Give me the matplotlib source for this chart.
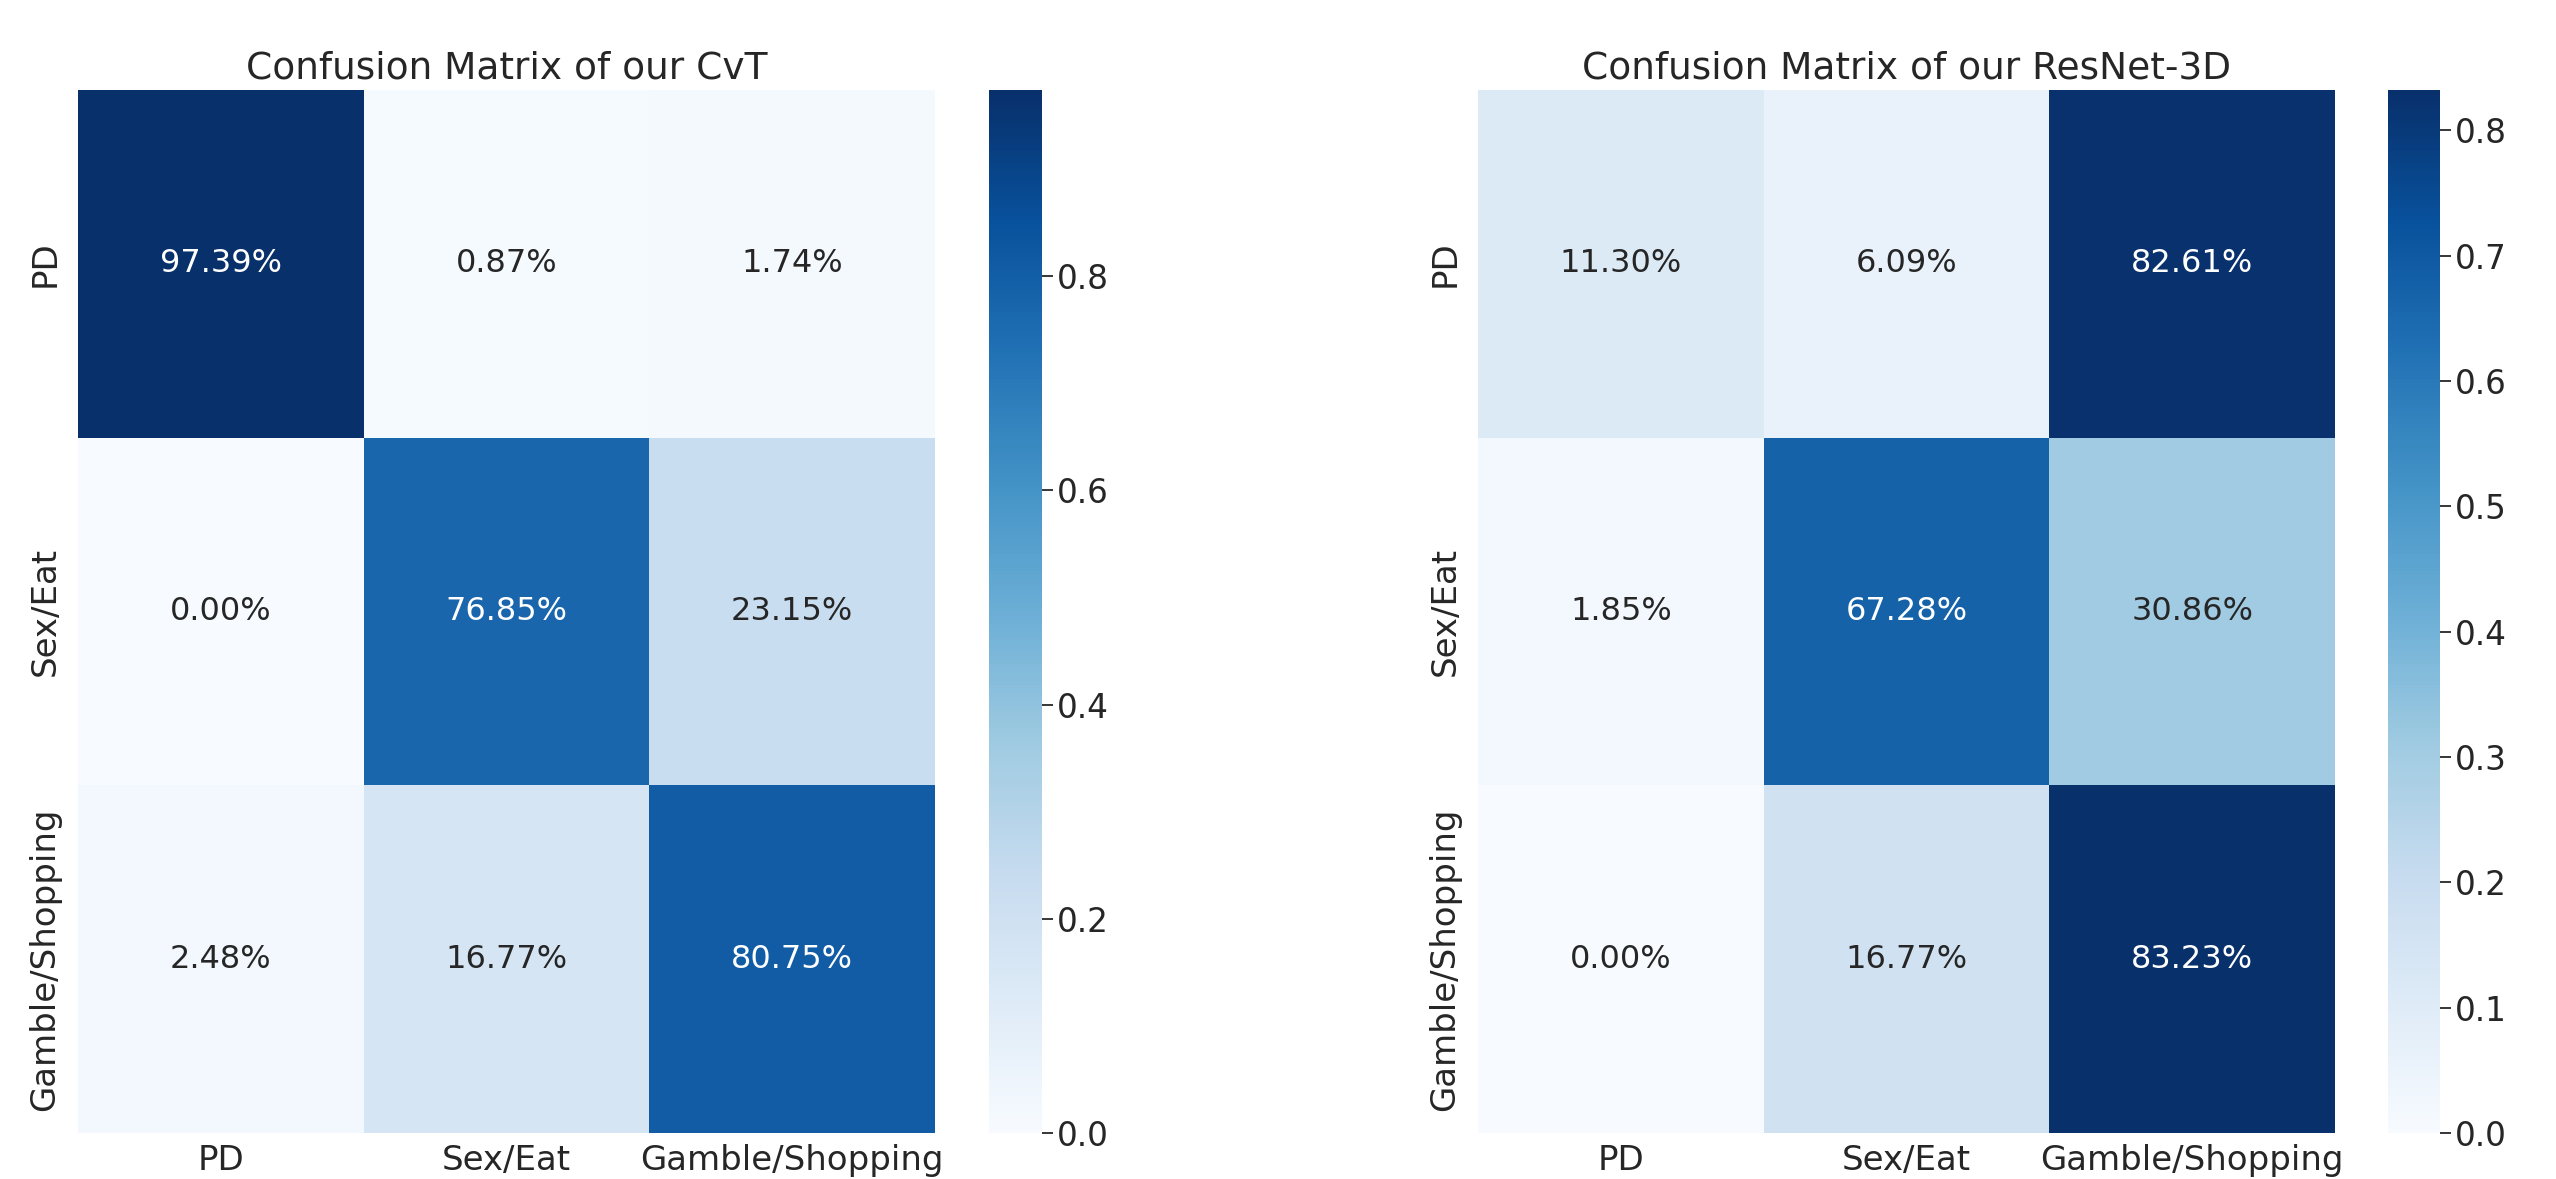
import numpy as np
import matplotlib
matplotlib.use('Agg')
import matplotlib.pyplot as plt
import seaborn as sns

# class names and confusion matrices (row-normalised)
labels = ['PD', 'Sex/Eat', 'Gamble/Shopping']
cvt_cm = np.array([[0.9739, 0.0087, 0.0174],
                   [0.0000, 0.7685, 0.2315],
                   [0.0248, 0.1677, 0.8075]])
resnet_cm = np.array([[0.1130, 0.0609, 0.8261],
                      [0.0185, 0.6728, 0.3086],
                      [0.0000, 0.1677, 0.8323]])
titles = ['Confusion Matrix of our CvT', 'Confusion Matrix of our ResNet-3D']

plt.rcParams['font.family'] = ['DejaVu Sans']
plt.rcParams['text.color'] = '.15'
plt.rcParams['xtick.color'] = '.15'
plt.rcParams['ytick.color'] = '.15'

fig = plt.figure(figsize=(25.56, 11.79), dpi=100)

W, H = 2556, 1179
# heatmap and colorbar boxes in pixels: heatmap left, width, colorbar left, width
boxes = [(78, 857, 989, 53), (1478, 857, 2388, 52)]
top, bottom = 90, 1133

for cm, title, (hx, hw, cx, cw) in zip([cvt_cm, resnet_cm], titles, boxes):
    ax = fig.add_axes([hx / W, (H - bottom) / H, hw / W, (bottom - top) / H])
    cax = fig.add_axes([cx / W, (H - bottom) / H, cw / W, (bottom - top) / H])
    sns.heatmap(cm, ax=ax, cbar_ax=cax, cmap='Blues', annot=True, fmt='.2%',
                annot_kws={'size': 23}, xticklabels=labels, yticklabels=labels)
    ax.set_title(title, fontsize=27, pad=8)
    ax.tick_params(axis='x', length=0, pad=8, labelsize=24.5)
    ax.tick_params(axis='y', length=0, pad=12, labelsize=24.5)
    plt.setp(ax.get_yticklabels(), rotation=90, va='center')
    plt.setp(ax.get_xticklabels(), rotation=0)
    cax.tick_params(labelsize=23.5, length=8, width=1.3, pad=3)

fig.savefig('out.png', dpi=100)
